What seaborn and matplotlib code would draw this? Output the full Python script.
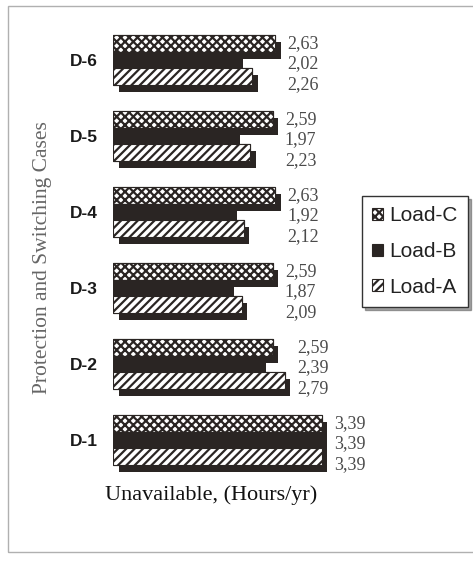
import matplotlib
matplotlib.use("Agg")
import matplotlib.pyplot as plt
import matplotlib.patheffects as pe
from matplotlib.patches import Patch, Rectangle
import seaborn as sns
import pandas as pd

# ---- data ----
cases = ["D-6", "D-5", "D-4", "D-3", "D-2", "D-1"]
series = ["Load-C", "Load-B", "Load-A"]
load_c = [2.63, 2.59, 2.63, 2.59, 2.59, 3.39]
load_b = [2.02, 1.97, 1.92, 1.87, 2.39, 3.39]
load_a = [2.26, 2.23, 2.12, 2.09, 2.79, 3.39]

values = {"Load-C": load_c, "Load-B": load_b, "Load-A": load_a}
df = pd.DataFrame(
    [(c, s, values[s][i]) for s in series for i, c in enumerate(cases)],
    columns=["case", "load", "hours"],
)

sns.set_style("white")
plt.rcParams["hatch.linewidth"] = 1.6

DARK = "#2a2523"
fig = plt.figure(figsize=(4.73, 5.62), dpi=100)
fig.patch.set_facecolor("white")
ax = fig.add_axes([113 / 473, 1 - 478 / 562, 0.651, 456 / 562])

sns.barplot(
    data=df, y="case", x="hours", hue="load", order=cases, hue_order=series,
    orient="h", errorbar=None, width=0.66, gap=0, legend=False, ax=ax,
)

styles = {
    "Load-C": dict(facecolor="white", hatch="xxxx"),
    "Load-B": dict(facecolor=DARK, hatch=None),
    "Load-A": dict(facecolor="white", hatch="////"),
}
shadow = [pe.withSimplePatchShadow(offset=(4, -5), shadow_rgbFace=DARK, alpha=1.0), pe.Normal()]
for cont, s in zip(ax.containers, series):
    for p in cont.patches:
        p.set_facecolor(styles[s]["facecolor"])
        p.set_hatch(styles[s]["hatch"])
        p.set_edgecolor(DARK)
        p.set_linewidth(0.8)
        p.set_path_effects(shadow)

ax.set_xlim(0, 5)
ax.set_ylim(5.5, -0.5)
ax.set_xticks([])
ax.set_xlabel("")
ax.set_ylabel("")
for sp in ax.spines.values():
    sp.set_visible(False)
ax.tick_params(axis="y", length=0, pad=11)
for t in ax.get_yticklabels():
    t.set_fontfamily("Liberation Sans")
    t.set_fontweight("bold")
    t.set_fontsize(12.5)
    t.set_color("#1a1a1a")

# value labels
for i, c in enumerate(cases):
    gmax = max(load_c[i], load_b[i], load_a[i])
    for j, s in enumerate(series):
        v = values[s][i]
        ax.text(gmax + 0.2, i + (j - 1) * 0.27 + 0.05, f"{v:.2f}".replace(".", ","),
                ha="left", va="center", fontsize=13, family="Liberation Serif",
                color="#4a4a4a")

# axis titles
fig.text(211 / 473, 1 - 495 / 562, "Unavailable, (Hours/yr)", ha="center", va="center",
         fontsize=16, family="Liberation Serif", color="#111111")
fig.text(42 / 473, 1 - 258 / 562, "Protection and Switching Cases", ha="center",
         va="center", rotation=90, fontsize=15.5, family="Liberation Serif",
         color="#666666")

# legend
handles = [Patch(facecolor=styles[s]["facecolor"], hatch=styles[s]["hatch"],
                 edgecolor=DARK, linewidth=0.8, label=s) for s in series]
leg = ax.legend(handles=handles, loc="upper left",
                bbox_to_anchor=(362 / 473, 1 - 196 / 562), bbox_transform=fig.transFigure,
                frameon=True, fancybox=False, shadow=True, borderaxespad=0,
                handlelength=0.5, handleheight=0.5, handletextpad=0.3,
                labelspacing=0.8, borderpad=0.5,
                prop={"family": "Liberation Sans", "size": 15})
leg.get_frame().set_edgecolor("#333333")
leg.get_frame().set_linewidth(1.0)
for t in leg.get_texts():
    t.set_color("#222222")

# outer frame
fig.patches.append(Rectangle((8 / 473, 1 - 552 / 562), 1.0, 546 / 562,
                             transform=fig.transFigure, fill=False,
                             edgecolor="#b0b0b0", linewidth=1.0))

fig.savefig("out.png", dpi=100)
